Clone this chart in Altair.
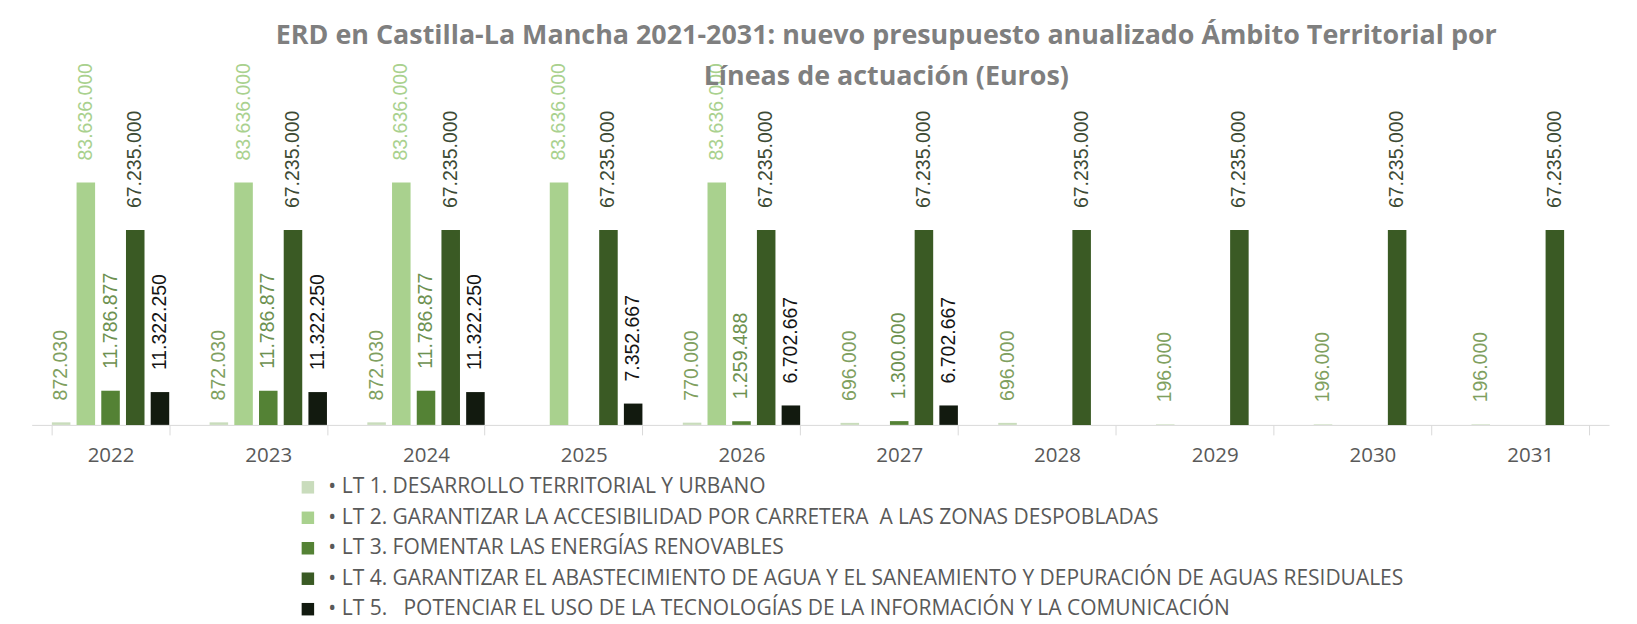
import altair as alt
import pandas as pd

years = ["2022", "2023", "2024", "2025", "2026", "2027", "2028", "2029", "2030", "2031"]
series = [
    "• LT 1. DESARROLLO TERRITORIAL Y URBANO",
    "• LT 2. GARANTIZAR LA ACCESIBILIDAD POR CARRETERA \u00a0A LAS ZONAS DESPOBLADAS",
    "• LT 3. FOMENTAR LAS ENERGÍAS RENOVABLES",
    "• LT 4. GARANTIZAR EL ABASTECIMIENTO DE AGUA Y EL SANEAMIENTO Y DEPURACIÓN DE AGUAS RESIDUALES",
    "• LT 5. \u00a0\u00a0POTENCIAR EL USO DE LA TECNOLOGÍAS DE LA INFORMACIÓN Y LA COMUNICACIÓN",
]
lt1 = [872030, 872030, 872030, None, 770000, 696000, 696000, 196000, 196000, 196000]
lt2 = [83636000, 83636000, 83636000, 83636000, 83636000, None, None, None, None, None]
lt3 = [11786877, 11786877, 11786877, None, 1259488, 1300000, None, None, None, None]
lt4 = [67235000, 67235000, 67235000, 67235000, 67235000, 67235000, 67235000, 67235000, 67235000, 67235000]
lt5 = [11322250, 11322250, 11322250, 7352667, 6702667, 6702667, None, None, None, None]

bar_colors = ["#c9dcbc", "#a9d18e", "#548235", "#3a5a24", "#121a0f"]
label_colors = ["#7fa05f", "#a9d18e", "#6d9150", "#3c4a34", "#141414"]

rows = []
for s, vals, lc in zip(series, [lt1, lt2, lt3, lt4, lt5], label_colors):
    for y, v in zip(years, vals):
        if v is None:
            continue
        rows.append({
            "year": y,
            "serie": s,
            "value": v,
            "label": f"{v:,}".replace(",", "."),
            "lcolor": lc,
        })
df = pd.DataFrame(rows)

x_enc = alt.X(
    "year:N",
    sort=years,
    scale=alt.Scale(paddingInner=0.256, paddingOuter=0.128),
    axis=alt.Axis(
        title=None,
        labelAngle=0,
        labelFont="Open Sans",
        labelFontSize=20.5,
        labelColor="#595959",
        labelPadding=11,
        domainColor="#d9d9d9",
        tickColor="#d9d9d9",
        tickSize=10,
        tickBand="extent",
    ),
)
xoff = alt.XOffset("serie:N", sort=series, scale=alt.Scale(paddingInner=0.25, paddingOuter=0))
y_enc = alt.Y("value:Q", scale=alt.Scale(domain=[0, 113400000], nice=False, zero=True), axis=None)

base = alt.Chart(df)

bars = base.mark_bar().encode(
    x=x_enc,
    xOffset=xoff,
    y=y_enc,
    color=alt.Color(
        "serie:N",
        sort=series,
        scale=alt.Scale(domain=series, range=bar_colors),
        legend=alt.Legend(
            title=None,
            orient="none",
            legendX=266,
            legendY=381,
            direction="vertical",
            symbolType="square",
            symbolSize=156,
            symbolStrokeWidth=0,
            labelFont="Open Sans",
            labelFontSize=21,
            labelColor="#595959",
            labelLimit=0,
            labelOffset=10,
            rowPadding=8.5,
            padding=0,
        ),
    ),
)

labels = base.mark_text(
    angle=270,
    align="left",
    baseline="middle",
    dx=22,
    font="Liberation Sans",
    fontSize=19.5,
).encode(
    x=x_enc,
    xOffset=xoff,
    y=y_enc,
    text="label:N",
    color=alt.Color("lcolor:N", scale=None),
)

chart = (
    alt.layer(bars, labels)
    .resolve_scale(color="independent")
    .properties(
        width=1579,
        height=329,
        autosize=alt.AutoSizeParams(type="none"),
        padding={"left": 23.7, "top": 88, "right": 20, "bottom": 199},
        title=alt.TitleParams(
            text=[
                "ERD en Castilla-La Mancha 2021-2031: nuevo presupuesto anualizado Ámbito Territorial por",
                "Líneas de actuación (Euros)",
            ],
            font="Open Sans",
            fontSize=26.9,
            fontWeight="bold",
            color="#7f7f7f",
            anchor="middle",
            dx=66,
            dy=32,
            lineHeight=41,
        ),
    )
    .configure_view(stroke=None)
)

chart.save("out.html", embed_options={"renderer": "svg", "actions": False})
